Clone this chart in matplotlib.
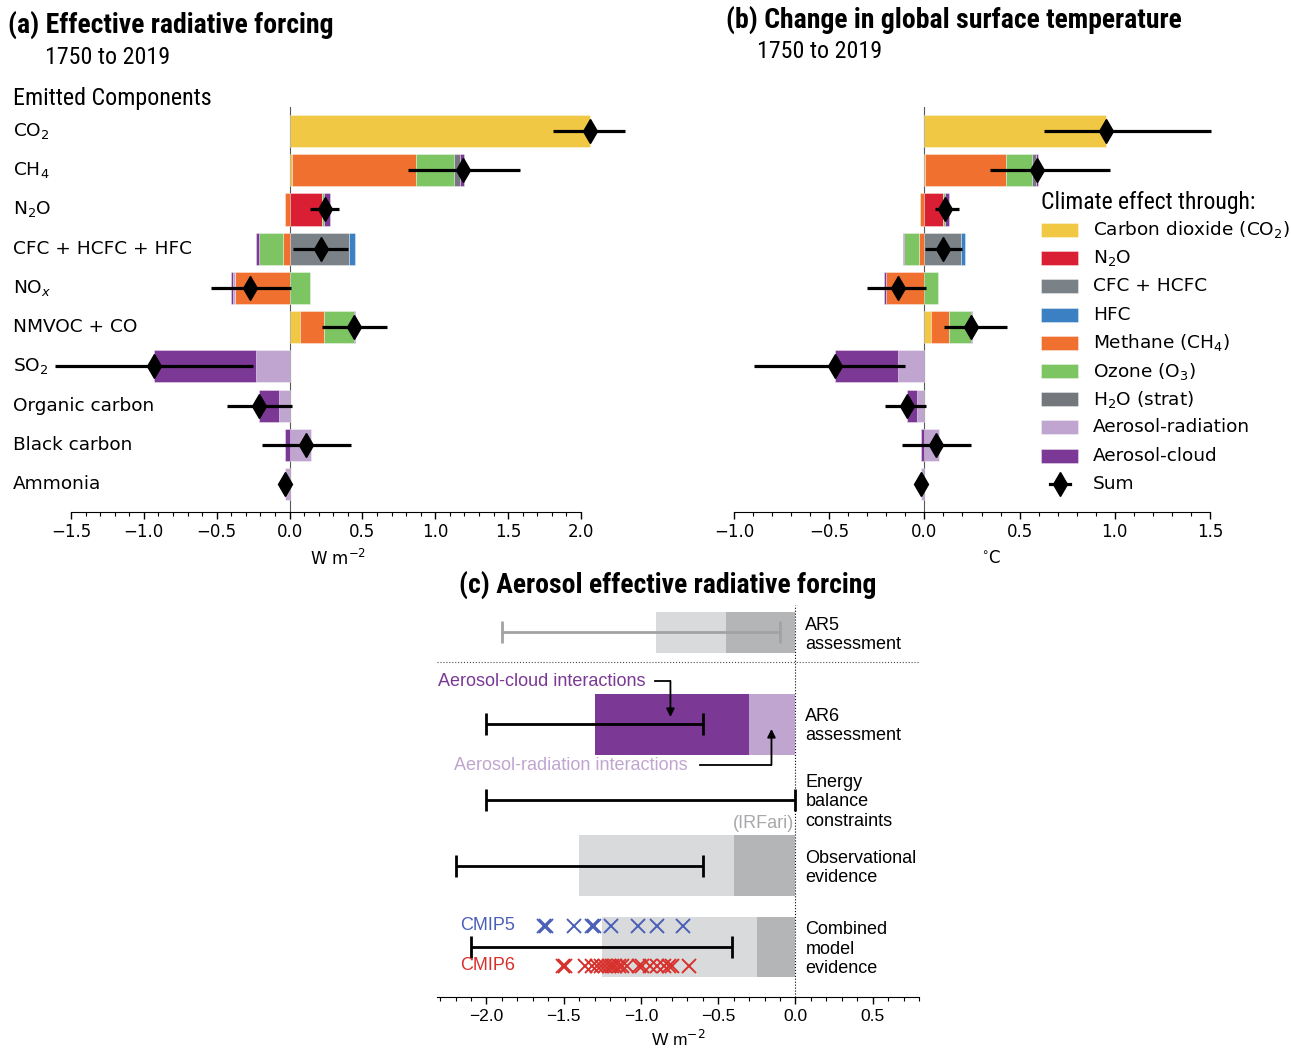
import matplotlib
matplotlib.use('Agg')
import matplotlib.pyplot as plt
import numpy as np
import matplotlib.transforms as mtransforms
from matplotlib.patches import Rectangle
from matplotlib.lines import Line2D
from matplotlib.ticker import MultipleLocator

W, H = 1291, 1055


def fx(px):
    return px / W


def fy(py):
    return 1 - py / H


# ---- data -------------------------------------------------------------
emitted = ['CO$_2$', 'CH$_4$', 'N$_2$O', 'CFC + HCFC + HFC', 'NO$_x$',
           'NMVOC + CO', 'SO$_2$', 'Organic carbon', 'Black carbon', 'Ammonia']
effects = ['Carbon dioxide (CO$_2$)', 'N$_2$O', 'CFC + HCFC', 'HFC',
           'Methane (CH$_4$)', 'Ozone (O$_3$)', 'H$_2$O (strat)',
           'Aerosol-radiation', 'Aerosol-cloud']
effect_colors = ['#f0c844', '#da1e33', '#7b8287', '#3a80c2', '#f07030',
                 '#7dc462', '#74787c', '#c0a5d0', '#7b3894']

# (a) effective radiative forcing by effect, W m-2 (one value per emitted component)
erf_co2 = [2.06, 0.02, 0, 0, 0, 0.07, 0, 0, 0, 0]
erf_n2o = [0, 0, 0.22, 0, 0, 0, 0, 0, 0, 0]
erf_cfc = [0, 0, 0, 0.41, 0, 0, 0, 0, 0, 0]
erf_hfc = [0, 0, 0, 0.04, 0, 0, 0, 0, 0, 0]
erf_ch4 = [0, 0.845, -0.03, -0.048, -0.375, 0.165, 0, 0, 0, 0]
erf_o3 = [0, 0.265, 0.015, -0.162, 0.14, 0.205, 0, 0, 0, 0]
erf_h2o = [0, 0.04, 0, 0, 0, 0, 0, 0, 0, 0]
erf_ari = [0, 0, 0, 0, -0.01, 0, -0.23, -0.07, 0.145, -0.03]
erf_aci = [0, 0.03, 0.045, -0.02, -0.015, 0.01, -0.70, -0.14, -0.03, 0]
erf_sum = [2.06, 1.19, 0.245, 0.215, -0.27, 0.44, -0.93, -0.21, 0.11, -0.03]
erf_low = [1.81, 0.81, 0.14, 0.025, -0.54, 0.22, -1.61, -0.43, -0.19, -0.04]
erf_high = [2.30, 1.58, 0.34, 0.40, 0.01, 0.67, -0.25, 0.02, 0.42, -0.02]

# (b) change in global surface temperature by effect, degC
dt_co2 = [0.953, 0.003, 0, 0, 0, 0.035, 0, 0, 0, 0]
dt_n2o = [0, 0, 0.098, 0, 0, 0, 0, 0, 0, 0]
dt_cfc = [0, 0, 0, 0.192, 0, 0, 0, 0, 0, 0]
dt_hfc = [0, 0, 0, 0.022, 0, 0, 0, 0, 0, 0]
dt_ch4 = [0, 0.427, -0.022, -0.026, -0.20, 0.095, 0, 0, 0, 0]
dt_o3 = [0, 0.133, 0.012, -0.079, 0.071, 0.114, 0, 0, 0, 0]
dt_h2o = [0, 0.025, 0, 0, 0, 0, 0, 0, 0, 0]
dt_ari = [0, 0, 0, 0, -0.004, 0, -0.14, -0.037, 0.077, -0.018]
dt_aci = [0, 0.01, 0.018, -0.009, -0.009, 0.004, -0.328, -0.057, -0.016, 0]
dt_sum = [0.953, 0.593, 0.108, 0.098, -0.14, 0.244, -0.468, -0.094, 0.059, -0.018]
dt_low = [0.63, 0.342, 0.055, 0.005, -0.30, 0.105, -0.895, -0.209, -0.12, -0.025]
dt_high = [1.505, 0.973, 0.182, 0.20, 0.007, 0.432, -0.104, 0.011, 0.244, -0.012]

# (c) aerosol ERF assessments, W m-2
c_rows = ['AR5\nassessment', 'AR6\nassessment', 'Energy\nbalance\nconstraints',
          'Observational\nevidence', 'Combined\nmodel\nevidence']
c_total = [-0.9, -1.3, np.nan, -1.4, -1.25]
c_ari = [-0.45, -0.3, np.nan, -0.4, -0.25]
c_low = [-1.9, -2.0, -2.0, -2.2, -2.1]
c_high = [-0.1, -0.6, 0.0, -0.6, -0.41]
cmip5 = [-1.628, -1.613, -1.43, -1.318, -1.305, -1.193, -1.02, -0.897, -0.725]
cmip6 = [-1.504, -1.489, -1.36, -1.317, -1.284, -1.258, -1.23, -1.208, -1.187,
         -1.165, -1.144, -1.122, -1.09, -1.014, -0.993, -0.939, -0.896, -0.853,
         -0.82, -0.799, -0.691]

# ---- fonts ------------------------------------------------------------
NARROW = ['Roboto Condensed', 'Liberation Sans']
ARIAL = ['Liberation Sans', 'DejaVu Sans']
plt.rcParams['font.family'] = ['DejaVu Sans']

fig = plt.figure(figsize=(W / 100, H / 100), dpi=100)


def panel(ax, comps, sums, lows, highs, xlim, xlabel, label_x):
    comps = np.array(comps, dtype=float)
    y = np.arange(len(emitted))
    pos_left = np.zeros(len(y))
    neg_left = np.zeros(len(y))
    for k, vals in enumerate(comps):
        for i, v in enumerate(vals):
            if v == 0:
                continue
            left = pos_left[i] if v > 0 else neg_left[i]
            ax.barh(y[i], v, left=left, height=0.82, color=effect_colors[k],
                    edgecolor=(1, 1, 1, 0.5), linewidth=0.5, zorder=2, clip_on=False)
            if v > 0:
                pos_left[i] += v
            else:
                neg_left[i] += v
    sums = np.array(sums)
    eb = ax.errorbar(sums, y, xerr=[sums - np.array(lows), np.array(highs) - sums],
                     fmt='d', color='k', ms=12, lw=2.3, capsize=0, zorder=4)
    for art in eb.get_children():
        art.set_clip_on(False)
    ax.axvline(0, color='0.35', lw=0.8, zorder=1)
    ax.set_xlim(*xlim)
    ax.set_ylim(9.71, -0.61)
    for s in ['top', 'right', 'left']:
        ax.spines[s].set_visible(False)
    ax.set_yticks([])
    ax.xaxis.set_minor_locator(MultipleLocator(0.1))
    ax.xaxis.set_major_locator(MultipleLocator(0.5))
    ax.tick_params(axis='x', which='major', length=5, width=1, labelsize=12, pad=3)
    ax.tick_params(axis='x', which='minor', length=3, width=0.8)
    ax.set_xlabel(xlabel, fontsize=12)
    ax.xaxis.set_label_coords(label_x, -0.092)


# ---- (a) ----------------------------------------------------------------
ax_a = fig.add_axes([fx(71), fy(512), fx(581) - fx(71), fy(107) - fy(512)])
panel(ax_a, [erf_co2, erf_n2o, erf_cfc, erf_hfc, erf_ch4, erf_o3, erf_h2o, erf_ari, erf_aci],
      erf_sum, erf_low, erf_high, (-1.5, 2.0), 'W m$^{-2}$', 0.523)
tr = mtransforms.blended_transform_factory(fig.transFigure, ax_a.transData)
for i, name in enumerate(emitted):
    ax_a.text(fx(13), i, name, transform=tr, ha='left', va='center', fontsize=13.3)

fig.text(fx(8), fy(25), '(a) Effective radiative forcing', family=NARROW,
         fontweight='bold', fontsize=20, va='center', ha='left')
fig.text(fx(45), fy(57), '1750 to 2019', family=NARROW, fontsize=17.3, va='center', ha='left')
fig.text(fx(13), fy(98), 'Emitted Components', family=NARROW, fontsize=17.3,
         va='center', ha='left')

# ---- (b) ----------------------------------------------------------------
ax_b = fig.add_axes([fx(734), fy(512), fx(1210) - fx(734), fy(107) - fy(512)])
panel(ax_b, [dt_co2, dt_n2o, dt_cfc, dt_hfc, dt_ch4, dt_o3, dt_h2o, dt_ari, dt_aci],
      dt_sum, dt_low, dt_high, (-1.0, 1.5), '$^{\\circ}$C', 0.54)
fig.text(fx(726), fy(20), '(b) Change in global surface temperature', family=NARROW,
         fontweight='bold', fontsize=20, va='center', ha='left')
fig.text(fx(757), fy(52), '1750 to 2019', family=NARROW, fontsize=17.3, va='center', ha='left')

# legend, drawn by hand
fig.text(fx(1041), fy(203), 'Climate effect through:', family=NARROW, fontsize=17,
         va='center', ha='left')
leg_y0, leg_dy = 230, 28.2
for k, (lab, col) in enumerate(zip(effects, effect_colors)):
    yc = leg_y0 + k * leg_dy
    fig.add_artist(Rectangle((fx(1041), fy(yc + 7)), fx(1078) - fx(1041), fy(yc - 7) - fy(yc + 7),
                             transform=fig.transFigure, facecolor=col,
                             edgecolor=(1, 1, 1, 0.5), linewidth=0.5))
    fig.text(fx(1093), fy(yc), lab, fontsize=13.3, va='center', ha='left')
yc = leg_y0 + len(effects) * leg_dy
fig.add_artist(Line2D([fx(1050), fx(1070)], [fy(yc), fy(yc)], transform=fig.transFigure,
                      color='k', lw=2.3))
fig.add_artist(Line2D([fx(1060)], [fy(yc)], transform=fig.transFigure, marker='d',
                      ms=12, color='k', ls='none'))
fig.text(fx(1093), fy(yc), 'Sum', fontsize=13.3, va='center', ha='left')

# ---- (c) ----------------------------------------------------------------
ax_c = fig.add_axes([fx(437), fy(997), fx(919) - fx(437), fy(605) - fy(997)])
c_y = [4.56, 3.41, 2.46, 1.64, 0.625]
c_h = [0.51, 0.76, 0, 0.76, 0.75]
c_label_y = [4.525, 3.39, 2.44, 1.61, 0.6]
for i in range(len(c_rows)):
    if not np.isnan(c_total[i]):
        outer, inner = ('#7b3894', '#c0a5d0') if i == 1 else ('#d9dadb', '#b3b5b7')
        ax_c.barh(c_y[i], c_total[i] - c_ari[i], left=c_ari[i], height=c_h[i],
                  color=outer, zorder=1)
        ax_c.barh(c_y[i], c_ari[i], height=c_h[i], color=inner, zorder=1)
    ecol = '#a0a2a4' if i == 0 else 'k'
    mid = (c_low[i] + c_high[i]) / 2
    ax_c.errorbar(mid, c_y[i], xerr=[[mid - c_low[i]], [c_high[i] - mid]], fmt='none',
                  ecolor=ecol, elinewidth=2, capsize=8, capthick=2, zorder=3)
    ax_c.text(0.065, c_label_y[i], c_rows[i], family=ARIAL, fontsize=13, va='center',
              ha='left', linespacing=1.17, clip_on=False)

ax_c.plot(cmip5, [0.8875] * len(cmip5), ls='none', marker='x', ms=10, mew=1.4,
          color='#4a5fb8', zorder=4)
ax_c.plot(cmip6, [0.3875] * len(cmip6), ls='none', marker='x', ms=10, mew=1.4,
          color='#d7302c', zorder=4)
ax_c.text(-2.168, 0.8875, 'CMIP5', family=ARIAL, fontsize=13, color='#4a5fb8',
          va='center', ha='left')
ax_c.text(-2.168, 0.3875, 'CMIP6', family=ARIAL, fontsize=13, color='#d7302c',
          va='center', ha='left')
ax_c.text(-0.01, 2.175, '(IRFari)', family=ARIAL, fontsize=13, color='#a6a8aa',
          va='center', ha='right')

ax_c.axvline(0, color='k', lw=0.8, ls=':', zorder=0)
ax_c.axhline(4.19, color='0.3', lw=0.8, ls=':', zorder=0)

ax_c.text(-2.311, 3.95, 'Aerosol-cloud interactions', family=ARIAL, fontsize=13,
          color='#7b3894', va='center', ha='left')
ax_c.plot([-0.906, -0.809], [3.95, 3.95], color='k', lw=1.3, zorder=5)
ax_c.annotate('', xy=(-0.809, 3.5), xytext=(-0.809, 3.95),
              arrowprops=dict(arrowstyle='-|>', color='k', lw=1.3, mutation_scale=12,
                              shrinkA=0, shrinkB=0), zorder=5)
ax_c.text(-2.207, 2.9, 'Aerosol-radiation interactions', family=ARIAL, fontsize=13,
          color='#c0a5d0', va='center', ha='left')
ax_c.plot([-0.615, -0.155], [2.9, 2.9], color='k', lw=1.3, zorder=5)
ax_c.annotate('', xy=(-0.155, 3.35), xytext=(-0.155, 2.9),
              arrowprops=dict(arrowstyle='-|>', color='k', lw=1.3, mutation_scale=12,
                              shrinkA=0, shrinkB=0), zorder=5)

ax_c.set_xlim(-2.32, 0.8)
ax_c.set_ylim(0, 4.9)
for s in ['top', 'right', 'left']:
    ax_c.spines[s].set_visible(False)
ax_c.set_yticks([])
ax_c.xaxis.set_major_locator(MultipleLocator(0.5))
ax_c.xaxis.set_minor_locator(MultipleLocator(0.1))
ax_c.tick_params(axis='x', which='major', length=5, width=1, labelsize=12.5)
ax_c.tick_params(axis='x', which='minor', length=3, width=0.8)
for lab in ax_c.get_xticklabels():
    lab.set_family(ARIAL)
ax_c.set_xlabel('W m$^{-2}$', family=ARIAL, fontsize=12.5)
fig.text(fx(668), fy(585), '(c) Aerosol effective radiative forcing', family=NARROW,
         fontweight='bold', fontsize=20, va='center', ha='center')

fig.savefig('out.png', dpi=100)
